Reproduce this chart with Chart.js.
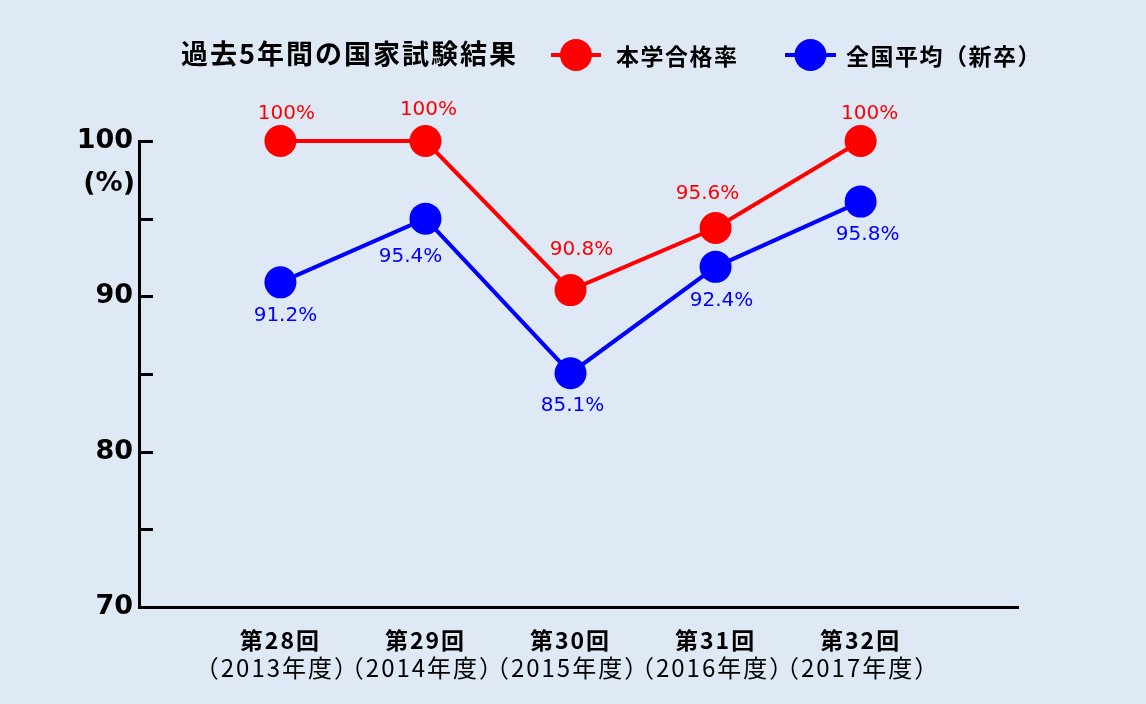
<!DOCTYPE html>
<html lang="ja">
<head>
<meta charset="utf-8">
<title>過去5年間の国家試験結果</title>
<script src="https://cdn.jsdelivr.net/npm/chart.js@4.4.1/dist/chart.umd.min.js"></script>
<style>
  html, body { margin: 0; padding: 0; background: #dee9f5; }
  canvas { display: block; }
</style>
</head>
<body>
<canvas id="chart" width="1146" height="704"></canvas>
<script>
// --- data ---
const rounds = ['第28回', '第29回', '第30回', '第31回', '第32回'];
const years = ['（2013年度）', '（2014年度）', '（2015年度）', '（2016年度）', '（2017年度）'];
// plotted positions as drawn in the picture
const schoolRate = [100, 100, 90.4, 94.4, 100];
const nationalRate = [90.9, 95.0, 85.05, 91.9, 96.1];
// printed value labels
const schoolLabels = ['100%', '100%', '90.8%', '95.6%', '100%'];
const nationalLabels = ['91.2%', '95.4%', '85.1%', '92.4%', '95.8%'];
const yTicks = [70, 80, 90, 100];

const TITLE = '過去5年間の国家試験結果';
const SERIES_NAMES = ['本学合格率', '全国平均（新卒）'];
const RED = '#ff0000';
const BLUE = '#0000ff';
const CJK = "'Noto Sans CJK JP', 'Noto Sans', sans-serif";
const LATIN = "'DejaVu Sans', Verdana, sans-serif";

// label nudges per point, [dx, dy] from the marker centre
const labelShift = [
  [[6, -27], [3, -31], [11, -40], [-8, -34], [9, -27]],
  [[5, 33], [-15, 38], [2, 33], [6, 34], [7, 33]],
];

const pts = arr => arr.map((v, i) => ({ x: i, y: v }));

// title + legend across the top
const headerPlugin = {
  id: 'header',
  afterDraw(chart) {
    const ctx = chart.ctx;
    ctx.save();
    ctx.fillStyle = '#000';
    ctx.textBaseline = 'middle';
    ctx.textAlign = 'left';
    ctx.letterSpacing = '2px';
    ctx.font = `bold 27px ${CJK}`;
    ctx.fillText(TITLE, 181, 54);

    const items = [
      { name: SERIES_NAMES[0], color: RED, x0: 551, x1: 601, tx: 616 },
      { name: SERIES_NAMES[1], color: BLUE, x0: 785, x1: 836, tx: 846 },
    ];
    ctx.letterSpacing = '1.5px';
    items.forEach(it => {
      ctx.strokeStyle = it.color;
      ctx.lineWidth = 4;
      ctx.beginPath();
      ctx.moveTo(it.x0, 55);
      ctx.lineTo(it.x1, 55);
      ctx.stroke();
      ctx.fillStyle = it.color;
      ctx.beginPath();
      ctx.arc((it.x0 + it.x1) / 2, 55, 16, 0, Math.PI * 2);
      ctx.fill();
      ctx.fillStyle = '#000';
      ctx.font = `bold 23px ${CJK}`;
      ctx.fillText(it.name, it.tx, 56);
    });
    ctx.restore();
  }
};

// inward tick marks, "(%)" and two-line category labels
const axisPlugin = {
  id: 'axisExtras',
  afterDraw(chart) {
    const { ctx, chartArea, scales } = chart;
    const y = scales.y, x = scales.x;
    ctx.save();
    ctx.strokeStyle = '#000';
    ctx.lineWidth = 3;
    y.ticks.forEach(t => {
      if (t.value === y.min) return;
      const py = Math.round(y.getPixelForValue(t.value)) + 0.5;
      ctx.beginPath();
      ctx.moveTo(chartArea.left, py);
      ctx.lineTo(chartArea.left + 14, py);
      ctx.stroke();
    });

    ctx.fillStyle = '#000';
    ctx.textAlign = 'right';
    ctx.textBaseline = 'middle';
    ctx.font = `bold 27px ${LATIN}`;
    ctx.fillText('(%)', 135, 184);

    ctx.textAlign = 'center';
    rounds.forEach((r, i) => {
      const px = x.getPixelForValue(i);
      ctx.letterSpacing = '2px';
      ctx.font = `bold 23px ${CJK}`;
      ctx.fillText(r, px, 640);
      ctx.letterSpacing = '2px';
      ctx.font = `24px ${CJK}`;
      ctx.fillText(years[i], px - 3, 668);
    });
    ctx.restore();
  }
};

// value labels next to each marker
const valueLabelPlugin = {
  id: 'valueLabels',
  afterDatasetsDraw(chart) {
    const ctx = chart.ctx;
    const texts = [schoolLabels, nationalLabels];
    ctx.save();
    ctx.font = `20px ${LATIN}`;
    ctx.textAlign = 'center';
    ctx.textBaseline = 'middle';
    chart.data.datasets.forEach((ds, di) => {
      const meta = chart.getDatasetMeta(di);
      ctx.fillStyle = ds.borderColor;
      meta.data.forEach((p, i) => {
        const [dx, dy] = labelShift[di][i];
        ctx.fillText(texts[di][i], p.x + dx, p.y + dy);
      });
    });
    ctx.restore();
  }
};

new Chart(document.getElementById('chart'), {
  type: 'line',
  data: {
    datasets: [
      {
        label: SERIES_NAMES[0],
        data: pts(schoolRate),
        borderColor: RED,
        backgroundColor: RED,
        borderWidth: 4,
        pointRadius: 16,
        pointBorderWidth: 0,
        pointBackgroundColor: RED,
        clip: false,
      },
      {
        label: SERIES_NAMES[1],
        data: pts(nationalRate),
        borderColor: BLUE,
        backgroundColor: BLUE,
        borderWidth: 4,
        pointRadius: 16,
        pointBorderWidth: 0,
        pointBackgroundColor: BLUE,
        clip: false,
      },
    ],
  },
  options: {
    responsive: false,
    animation: false,
    devicePixelRatio: 1,
    layout: { padding: { left: 0, top: 141, right: 128, bottom: 0 } },
    plugins: {
      legend: { display: false },
      tooltip: { enabled: false },
    },
    scales: {
      x: {
        type: 'linear',
        min: -0.975,
        max: 5.085,
        grid: { display: false, drawTicks: false },
        border: { display: true, color: '#000', width: 3 },
        ticks: { display: false },
        afterFit(scale) { scale.height = 97; },
      },
      y: {
        min: 70,
        max: 100,
        grid: { display: false, drawTicks: false },
        border: { display: true, color: '#000', width: 3 },
        ticks: {
          stepSize: 5,
          padding: 6,
          color: '#000',
          font: { family: LATIN, size: 27, weight: 'bold' },
          callback: v => (yTicks.includes(v) ? String(v) : ''),
        },
        afterFit(scale) { scale.width = 139; },
      },
    },
  },
  plugins: [headerPlugin, axisPlugin, valueLabelPlugin],
});
</script>
</body>
</html>
